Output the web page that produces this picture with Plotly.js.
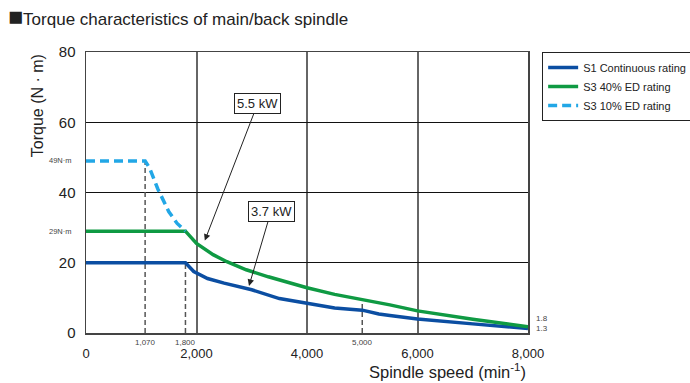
<!DOCTYPE html>
<html>
<head>
<meta charset="utf-8">
<script src="https://cdn.plot.ly/plotly-3.0.1.min.js"></script>
<style>html,body{margin:0;padding:0;background:#fff;}#chart{width:690px;height:383px;}</style>
</head>
<body>
<div id="chart"></div>
<script>
// Data
const s1Speed = [0, 1800, 1950, 2200, 2500, 3000, 3500, 4000, 4500, 5000, 5300, 5500, 6000, 7000, 8000];
const s1Torque = [20, 20, 17.5, 15.5, 14.2, 12.3, 9.8, 8.4, 7.1, 6.5, 5.4, 5.0, 4.0, 2.6, 1.3];

const s3_40Speed = [0, 1800, 2000, 2300, 2550, 2900, 3300, 4000, 4500, 5000, 5500, 6000, 7000, 8000];
const s3_40Torque = [29, 29, 25.5, 22.3, 20.3, 18.0, 16.0, 12.9, 11.0, 9.6, 8.0, 6.3, 3.9, 1.8];

const s3_10Speed = [0, 1070, 1150, 1300, 1500, 1650, 1800];
const s3_10Torque = [49, 49, 47, 41, 34.5, 31.2, 29];

const refSpeeds = [1070, 1800, 5000];
const refTorques = [49, 20, 9.6];
const refLabels = ['1,070', '1,800', '5,000'];

const xTickVals = [0, 2000, 4000, 6000, 8000];
const xTickText = ['0', '2,000', '4,000', '6,000', '8,000'];
const yTickVals = [0, 20, 40, 60, 80];
const yTickText = ['0', '20', '40', '60', '80'];

const torqueMarks = [49, 29];
const torqueMarkLabels = ['49N·m', '29N·m'];
const endTorques = [1.8, 1.3];

const powerLabels = ['5.5 kW', '3.7 kW'];
const powerTipSpeed = [2150, 2950];
const powerTipTorque = [26.3, 13.4];
const powerBoxSpeed = [3110, 3350];
const powerBoxTorque = [65.4, 34.7];

const FONT = 'Liberation Sans, Arial, sans-serif';

const traces = [];
// reference dashed verticals
refSpeeds.forEach((s, i) => {
  traces.push({
    x: [s, s], y: [0, refTorques[i]], mode: 'lines', showlegend: false, hoverinfo: 'skip',
    line: {color: '#555', width: 1.5, dash: '5px,3px'}
  });
});
traces.push({
  x: s1Speed, y: s1Torque, mode: 'lines', name: 'S1 Continuous rating',
  line: {color: '#0b4ea2', width: 3.5}
});
traces.push({
  x: s3_40Speed, y: s3_40Torque, mode: 'lines', name: 'S3 40% ED rating',
  line: {color: '#0f9a43', width: 3.5}
});
traces.push({
  x: s3_10Speed, y: s3_10Torque, mode: 'lines', name: 'S3 10% ED rating',
  line: {color: '#22a7e6', width: 3.5, dash: '9px,5px'}
});

const annotations = [];
refSpeeds.forEach((s, i) => {
  annotations.push({x: s, y: 0, xref: 'x', yref: 'y', yshift: -9, text: refLabels[i],
    showarrow: false, font: {size: 8, color: '#444', family: FONT}});
});
torqueMarks.forEach((t, i) => {
  annotations.push({x: 0, xref: 'paper', y: t, yref: 'y', xshift: -12, xanchor: 'right', text: torqueMarkLabels[i],
    showarrow: false, font: {size: 7.5, color: '#444', family: FONT}});
});
endTorques.forEach((t, i) => {
  annotations.push({x: 1, xref: 'paper', y: t, yref: 'y', xshift: 6, yshift: i === 0 ? 8 : 0, xanchor: 'left', text: String(t),
    showarrow: false, font: {size: 8, color: '#444', family: FONT}});
});
powerLabels.forEach((p, i) => {
  annotations.push({x: powerTipSpeed[i], y: powerTipTorque[i], xref: 'x', yref: 'y',
    ax: powerBoxSpeed[i], ay: powerBoxTorque[i], axref: 'x', ayref: 'y',
    text: p, showarrow: true, arrowhead: 2, arrowsize: 1.3, arrowwidth: 1, arrowcolor: '#222',
    bordercolor: '#222', borderwidth: 1, borderpad: 2, bgcolor: '#fff',
    font: {size: 13, color: '#222', family: FONT}});
});
annotations.push({x: -0.109, y: 0.81, xref: 'paper', yref: 'paper', xanchor: 'center', yanchor: 'middle',
  text: 'Torque (N · m)', textangle: -90,
  showarrow: false, font: {size: 16, color: '#222', family: FONT}});
annotations.push({x: 1, y: -0.179, xref: 'paper', yref: 'paper', xanchor: 'right', yanchor: 'bottom',
  text: 'Spindle speed (min<sup>-1</sup>)', showarrow: false, font: {size: 16.5, color: '#222', family: FONT}});

const layout = {
  width: 690, height: 383,
  margin: {l: 86, r: 162, t: 52, b: 50, autoexpand: false},
  paper_bgcolor: '#fff', plot_bgcolor: '#fff',
  font: {family: FONT, color: '#222'},
  title: {text: '<span style="font-size:25px">■</span>Torque characteristics of main/back spindle', x: 8/690, xanchor: 'left', xref: 'container',
    y: 1 - 19/383, yanchor: 'middle', yref: 'container', font: {size: 17, color: '#222', family: FONT}},
  xaxis: {range: [0, 8000], tickvals: xTickVals, ticktext: xTickText, ticks: '', showgrid: true,
    gridcolor: '#666', gridwidth: 2, zeroline: false, showline: true, linecolor: '#444', linewidth: 1.5, mirror: true,
    ticklabelstandoff: 8, tickfont: {size: 13, color: '#222'}},
  yaxis: {range: [0, 80], tickvals: yTickVals, ticktext: yTickText, ticks: '', showgrid: true,
    gridcolor: '#111', gridwidth: 1, zeroline: false, showline: true, linecolor: '#444', linewidth: 1.5, mirror: true,
    ticklabelstandoff: 6, tickfont: {size: 15, color: '#222'}},
  showlegend: true,
  legend: {x: 1.032, xanchor: 'left', y: 1.0, yanchor: 'top', bordercolor: '#222', borderwidth: 1, bgcolor: '#fff',
    font: {size: 11, color: '#222', family: FONT}, tracegroupgap: 0, itemwidth: 30},
  annotations: annotations
};

Plotly.newPlot('chart', traces, layout, {displayModeBar: false, staticPlot: true});
</script>
</body>
</html>
